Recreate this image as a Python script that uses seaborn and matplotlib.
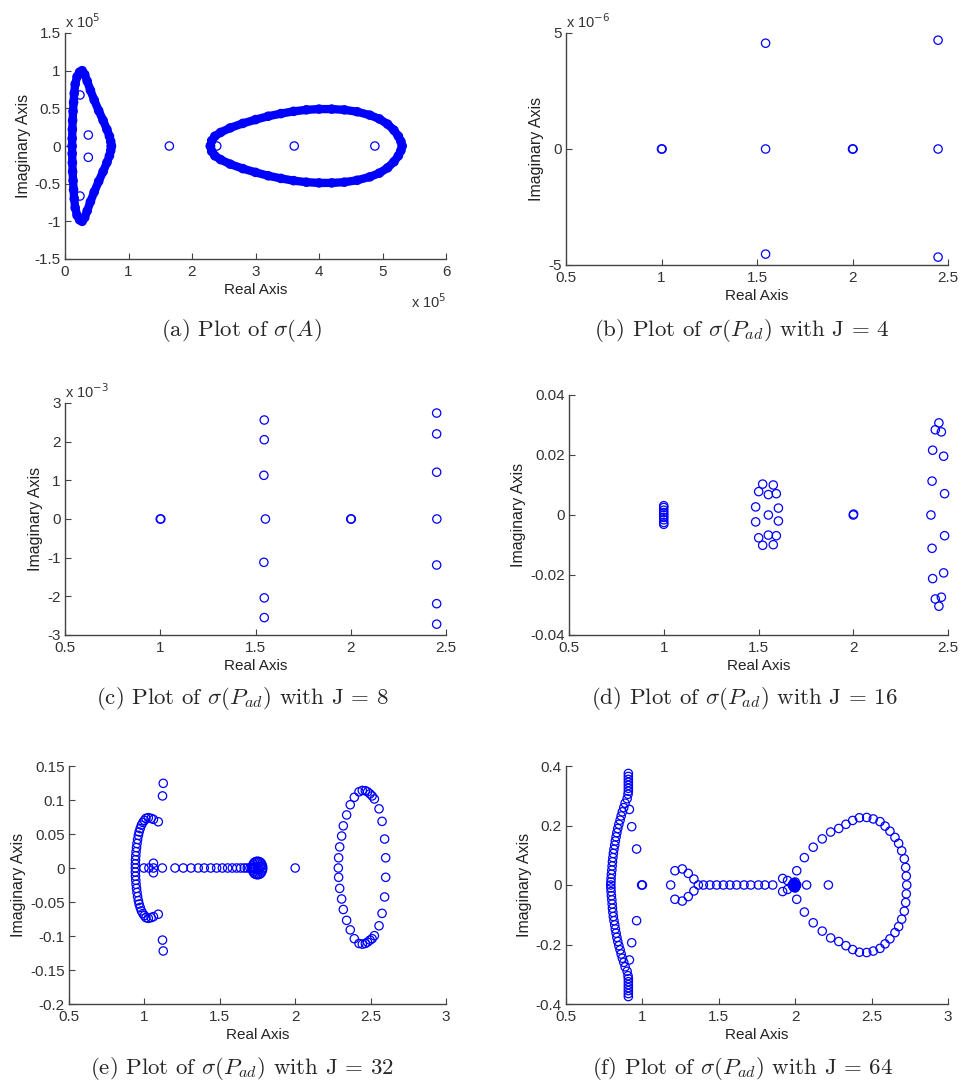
import seaborn as sns
import matplotlib.pyplot as plt
from matplotlib import use
from matplotlib.ticker import FormatStrFormatter

use('agg')

# ---- (a) spectrum of A, values in units of 1e5 ----
A_LEFT_RE = [0.73, 0.72, 0.70, 0.66, 0.60, 0.53, 0.46, 0.40, 0.35, 0.31, 0.27, 0.23, 0.19, 0.16, 0.145,
             0.135, 0.127, 0.12, 0.116, 0.113, 0.112, 0.113, 0.116, 0.12, 0.127, 0.135, 0.145, 0.16, 0.19,
             0.23, 0.27, 0.31, 0.35, 0.40, 0.46, 0.53, 0.60, 0.66, 0.70, 0.72, 0.73]
A_LEFT_IM = [0.0, 0.06, 0.13, 0.22, 0.34, 0.47, 0.61, 0.74, 0.86, 0.95, 1.0, 0.98, 0.92, 0.82, 0.70,
             0.58, 0.46, 0.34, 0.22, 0.10, 0.0, -0.10, -0.22, -0.34, -0.46, -0.58, -0.70, -0.82, -0.92,
             -0.98, -1.0, -0.95, -0.86, -0.74, -0.61, -0.47, -0.34, -0.22, -0.13, -0.06, 0.0]
A_EGG_RE = [2.29, 2.31, 2.36, 2.45, 2.6, 2.8, 3.0, 3.2, 3.4, 3.6, 3.8, 4.0, 4.2, 4.4, 4.6, 4.8, 4.95,
            5.08, 5.18, 5.25, 5.29, 5.31, 5.29, 5.25, 5.18, 5.08, 4.95, 4.8, 4.6, 4.4, 4.2, 4.0, 3.8,
            3.6, 3.4, 3.2, 3.0, 2.8, 2.6, 2.45, 2.36, 2.31, 2.29]
A_EGG_IM = [0.0, 0.07, 0.13, 0.18, 0.24, 0.30, 0.35, 0.395, 0.43, 0.46, 0.48, 0.49, 0.49, 0.48, 0.455,
            0.41, 0.36, 0.29, 0.21, 0.13, 0.06, 0.0, -0.06, -0.13, -0.21, -0.29, -0.36, -0.41, -0.455,
            -0.48, -0.49, -0.49, -0.48, -0.46, -0.43, -0.395, -0.35, -0.30, -0.24, -0.18, -0.13, -0.07, 0.0]
A_PTS_RE = [0.236, 0.367, 0.367, 0.236, 1.643, 2.39, 3.61, 4.88]
A_PTS_IM = [0.677, 0.146, -0.15, -0.664, 0.0, 0.0, 0.0, 0.0]

# ---- (b) J = 4, imaginary part in units of 1e-6 ----
B_RE = [1.0, 1.003, 1.545, 1.545, 1.545, 2.0, 2.003, 2.448, 2.448, 2.448]
B_IM = [0.0, 0.0, 4.56, 0.0, -4.53, 0.0, 0.0, 4.69, 0.0, -4.66]

# ---- (c) J = 8, imaginary part in units of 1e-3 ----
C_RE = [1.0, 1.003, 1.546, 1.546, 1.544, 1.552, 1.544, 1.546, 1.546, 2.0, 2.003,
        2.451, 2.451, 2.451, 2.452, 2.451, 2.451, 2.451]
C_IM = [0.0, 0.0, 2.56, 2.05, 1.13, 0.0, -1.12, -2.04, -2.55, 0.0, 0.0,
        2.74, 2.20, 1.21, 0.0, -1.19, -2.19, -2.72]

# ---- (d) J = 16 ----
D_RE = [1.0, 1.0, 1.0, 1.0, 1.0, 1.0, 1.0, 1.0, 1.0,
        1.522, 1.578, 1.501, 1.552, 1.594, 1.485, 1.605, 1.552, 1.485, 1.605, 1.501, 1.552, 1.594, 1.522, 1.578,
        2.0, 2.002,
        2.452, 2.433, 2.465, 2.419, 2.477, 2.416, 2.482, 2.410, 2.482, 2.416, 2.477, 2.419, 2.433, 2.465, 2.452]
D_IM = [0.0031, 0.0025, 0.0016, 0.0008, 0.0, -0.0008, -0.0016, -0.0025, -0.0031,
        0.0103, 0.0100, 0.0078, 0.0068, 0.0071, 0.0027, 0.0023, 0.0, -0.0023, -0.0020, -0.0076, -0.0067,
        -0.0069, -0.0101, -0.0099,
        0.0, 0.0003,
        0.0307, 0.0284, 0.0277, 0.0216, 0.0196, 0.0113, 0.0071, 0.0, -0.0069, -0.0111, -0.0193, -0.0212,
        -0.0280, -0.0274, -0.0304]

# ---- (e) J = 32 ----
E_RE = [1.092, 1.06, 1.045, 1.026, 1.01, 1.0, 0.99, 0.98, 0.972, 0.965, 0.96, 0.955, 0.951, 0.948, 0.945,
        0.943, 0.941, 0.94, 0.94, 0.94, 0.941, 0.943, 0.945, 0.948, 0.951, 0.955, 0.96, 0.965, 0.972, 0.98,
        0.99, 1.0, 1.01, 1.026, 1.045, 1.06, 1.092,
        1.125, 1.12, 1.12, 1.125,
        0.997, 1.03, 1.06, 1.06, 1.06, 1.119,
        1.203, 1.258, 1.309, 1.357, 1.397, 1.44, 1.479, 1.517, 1.552, 1.583, 1.612, 1.638, 1.662, 1.682,
        1.70, 1.712, 1.722, 1.73,
        1.785, 1.783, 1.778, 1.77, 1.76, 1.75, 1.74, 1.73, 1.722, 1.717, 1.715, 1.717, 1.722, 1.73, 1.74,
        1.75, 1.76, 1.77, 1.778, 1.783, 1.77, 1.76,
        2.0,
        2.423, 2.445, 2.465, 2.48, 2.496, 2.51, 2.525, 2.556, 2.576, 2.593, 2.60, 2.60, 2.593, 2.576, 2.556,
        2.525, 2.51, 2.496, 2.48, 2.465, 2.445, 2.423, 2.392, 2.365, 2.341, 2.319, 2.308, 2.295, 2.288,
        2.286, 2.288, 2.295, 2.308, 2.319, 2.341, 2.365, 2.392]
E_IM = [0.068, 0.0715, 0.073, 0.074, 0.073, 0.070, 0.067, 0.063, 0.058, 0.053, 0.048, 0.042, 0.036, 0.030,
        0.024, 0.018, 0.012, 0.006, 0.0, -0.006, -0.012, -0.018, -0.024, -0.030, -0.036, -0.042, -0.048,
        -0.053, -0.058, -0.063, -0.067, -0.070, -0.073, -0.074, -0.073, -0.0715, -0.068,
        0.1245, 0.106, -0.106, -0.122,
        0.0, 0.0, 0.007, 0.0, -0.007, 0.0,
        0.0, 0.0, 0.0, 0.0, 0.0, 0.0, 0.0, 0.0, 0.0, 0.0, 0.0, 0.0, 0.0, 0.0,
        0.0, 0.0, 0.0, 0.0,
        0.0, 0.003, 0.006, 0.0085, 0.0095, 0.010, 0.0095, 0.0085, 0.006, 0.003, 0.0, -0.003, -0.006,
        -0.0085, -0.0095, -0.010, -0.0095, -0.0085, -0.006, -0.003, 0.002, -0.003,
        0.0,
        0.112, 0.114, 0.1137, 0.112, 0.109, 0.106, 0.1015, 0.087, 0.0686, 0.0426, 0.015, -0.0137, -0.0426,
        -0.0667, -0.085, -0.0995, -0.104, -0.106, -0.109, -0.111, -0.112, -0.111, -0.104, -0.091, -0.077,
        -0.061, -0.0456, -0.030, -0.0137, 0.0, 0.015, 0.031, 0.047, 0.062, 0.078, 0.093, 0.104]

# ---- (f) J = 64 ----
F_RE = [0.908, 0.908, 0.908, 0.908, 0.908, 0.908, 0.908, 0.906, 0.9, 0.887, 0.878, 0.869, 0.861, 0.854,
        0.846, 0.839, 0.833, 0.828, 0.823, 0.819, 0.814, 0.81, 0.807, 0.804, 0.802, 0.8, 0.797, 0.795,
        0.794, 0.793, 0.794, 0.795, 0.797, 0.8, 0.802, 0.804, 0.807, 0.81, 0.814, 0.819, 0.823, 0.828,
        0.833, 0.839, 0.846, 0.854, 0.861, 0.869, 0.878, 0.887, 0.9, 0.906, 0.908, 0.908, 0.908, 0.908,
        0.908, 0.908, 0.908,
        0.915, 0.93, 0.962, 0.962, 0.93, 0.915,
        0.995, 1.0,
        1.185, 1.213, 1.261, 1.3, 1.337, 1.213, 1.261, 1.3, 1.337,
        1.366, 1.399, 1.442, 1.486, 1.53, 1.573, 1.617, 1.665, 1.709, 1.759, 1.802, 1.853,
        1.918, 1.918, 2.01, 2.01, 2.075, 2.217, 1.95, 1.95,
        1.98, 2.0, 2.0, 2.01, 1.99, 1.99,
        2.06, 2.118, 2.177, 2.232, 2.285, 2.332, 2.376, 2.42, 2.468, 2.511, 2.555, 2.588, 2.62, 2.653,
        2.677, 2.697, 2.714, 2.723, 2.727, 2.73, 2.727, 2.723, 2.714, 2.697, 2.677, 2.653, 2.62, 2.588,
        2.555, 2.511, 2.468, 2.42, 2.376, 2.332, 2.285, 2.232, 2.177, 2.118, 2.06]
F_IM = [0.375, 0.365, 0.355, 0.345, 0.335, 0.325, 0.315, 0.305, 0.29, 0.275, 0.26, 0.246, 0.232, 0.218,
        0.204, 0.19, 0.176, 0.162, 0.148, 0.134, 0.12, 0.106, 0.092, 0.078, 0.064, 0.05, 0.036, 0.022,
        0.01, 0.0, -0.01, -0.022, -0.036, -0.05, -0.064, -0.078, -0.092, -0.106, -0.12, -0.134, -0.148,
        -0.162, -0.176, -0.19, -0.204, -0.218, -0.232, -0.246, -0.26, -0.275, -0.29, -0.305, -0.315,
        -0.325, -0.335, -0.345, -0.355, -0.365, -0.375,
        0.254, 0.196, 0.121, -0.12, -0.194, -0.252,
        0.0, 0.0,
        0.0, 0.048, 0.054, 0.039, 0.02, -0.048, -0.054, -0.039, -0.02,
        0.0, 0.0, 0.0, 0.0, 0.0, 0.0, 0.0, 0.0, 0.0, 0.0, 0.0, 0.0,
        0.022, -0.022, 0.048, -0.048, 0.0, 0.0, 0.015, -0.015,
        0.0, 0.01, -0.01, 0.0, 0.008, -0.008,
        0.092, 0.127, 0.155, 0.178, 0.19, 0.204, 0.217, 0.226, 0.227, 0.222, 0.213, 0.198, 0.181, 0.16,
        0.14, 0.115, 0.088, 0.059, 0.030, 0.0, -0.030, -0.059, -0.088, -0.115, -0.14, -0.16, -0.181,
        -0.198, -0.213, -0.222, -0.227, -0.226, -0.217, -0.204, -0.19, -0.178, -0.155, -0.127, -0.091]
F_FILLED_RE = [1.995]
F_FILLED_IM = [0.0]

CAPTIONS = [r'(a) Plot of $\sigma(A)$',
            r'(b) Plot of $\sigma(P_{ad})$ with J = 4',
            r'(c) Plot of $\sigma(P_{ad})$ with J = 8',
            r'(d) Plot of $\sigma(P_{ad})$ with J = 16',
            r'(e) Plot of $\sigma(P_{ad})$ with J = 32',
            r'(f) Plot of $\sigma(P_{ad})$ with J = 64']

BLUE = '#0000ff'
W, H = 961, 1087

sns.set_theme(style='ticks')
plt.rcParams['font.family'] = ['Liberation Sans', 'DejaVu Sans']
plt.rcParams['axes.unicode_minus'] = False

fig = plt.figure(figsize=(W / 100, H / 100), dpi=100, facecolor='white')


def make_axes(left, top, right, bottom):
    return fig.add_axes([left / W, 1 - bottom / H, (right - left) / W, (bottom - top) / H])


def style(ax, xlim, ylim, xticks, yticks):
    ax.set_xlim(xlim)
    ax.set_ylim(ylim)
    ax.set_xticks(xticks)
    ax.set_yticks(yticks)
    ax.xaxis.set_major_formatter(FormatStrFormatter('%g'))
    ax.yaxis.set_major_formatter(FormatStrFormatter('%g'))
    sns.despine(ax=ax)
    for side in ['left', 'bottom']:
        ax.spines[side].set_color('#444444')
        ax.spines[side].set_linewidth(1.0)
    ax.tick_params(direction='in', length=4, width=0.8, colors='#444444', labelcolor='#333333',
                   labelsize=11, pad=3)
    ax.tick_params(axis='x', pad=4)
    ax.set_xlabel('Real Axis', fontsize=11, color='#222222', labelpad=3)
    ax.set_ylabel('Imaginary Axis', fontsize=11.5, color='#222222', labelpad=3)


def hollow(ax, x, y, s=36):
    sns.scatterplot(x=x, y=y, ax=ax, marker='o', s=s, facecolor='none', edgecolor=BLUE,
                    linewidth=0.9, legend=False, clip_on=False, zorder=3)


def caption(x, y, text):
    fig.text(x / W, 1 - y / H, text, ha='center', va='center', fontsize=16.5,
             fontfamily='cmr10', math_fontfamily='cm')


def exponent(ax, xa, ya, power, ha):
    ax.text(xa, ya, 'x 10$^{%s}$' % power, transform=ax.transAxes, ha=ha, va='bottom',
            fontsize=10.5, color='#333333', math_fontfamily='dejavusans')


# (a)
ax = make_axes(65, 33, 446, 259)
sns.lineplot(x=A_LEFT_RE, y=A_LEFT_IM, ax=ax, sort=False, estimator=None, color=BLUE, lw=6)
sns.lineplot(x=A_EGG_RE, y=A_EGG_IM, ax=ax, sort=False, estimator=None, color=BLUE, lw=6)
hollow(ax, A_LEFT_RE + A_EGG_RE + A_PTS_RE, A_LEFT_IM + A_EGG_IM + A_PTS_IM)
style(ax, (0, 6), (-1.5, 1.5), range(0, 7), [-1.5, -1, -0.5, 0, 0.5, 1, 1.5])
exponent(ax, 0.0, 1.01, '5', 'left')
exponent(ax, 1.0, -0.23, '5', 'right')

# (b)
ax = make_axes(566, 33, 948, 265)
hollow(ax, B_RE, B_IM)
style(ax, (0.5, 2.5), (-5, 5), [0.5, 1, 1.5, 2, 2.5], [-5, 0, 5])
exponent(ax, 0.0, 1.01, '-6', 'left')

# (c)
ax = make_axes(65, 403, 446, 635)
hollow(ax, C_RE, C_IM)
style(ax, (0.5, 2.5), (-3, 3), [0.5, 1, 1.5, 2, 2.5], [-3, -2, -1, 0, 1, 2, 3])
exponent(ax, 0.0, 1.01, '-3', 'left')

# (d)
ax = make_axes(569, 395, 948, 635)
hollow(ax, D_RE, D_IM)
style(ax, (0.5, 2.5), (-0.04, 0.04), [0.5, 1, 1.5, 2, 2.5], [-0.04, -0.02, 0, 0.02, 0.04])

# (e)
ax = make_axes(69, 766, 446, 1004)
hollow(ax, E_RE, E_IM)
style(ax, (0.5, 3), (-0.2, 0.15), [0.5, 1, 1.5, 2, 2.5, 3],
      [-0.2, -0.15, -0.1, -0.05, 0, 0.05, 0.1, 0.15])

# (f)
ax = make_axes(566, 766, 948, 1004)
hollow(ax, F_RE, F_IM)
sns.scatterplot(x=F_FILLED_RE, y=F_FILLED_IM, ax=ax, marker='o', s=75, color=BLUE,
                edgecolor=BLUE, legend=False, zorder=4)
style(ax, (0.5, 3), (-0.4, 0.4), [0.5, 1, 1.5, 2, 2.5, 3], [-0.4, -0.2, 0, 0.2, 0.4])

for (cx, cy), text in zip([(241, 330), (742, 330), (242, 699), (744, 699), (242, 1069), (743, 1069)],
                          CAPTIONS):
    caption(cx, cy, text)

plt.savefig('out.png', dpi=100, facecolor='white')
